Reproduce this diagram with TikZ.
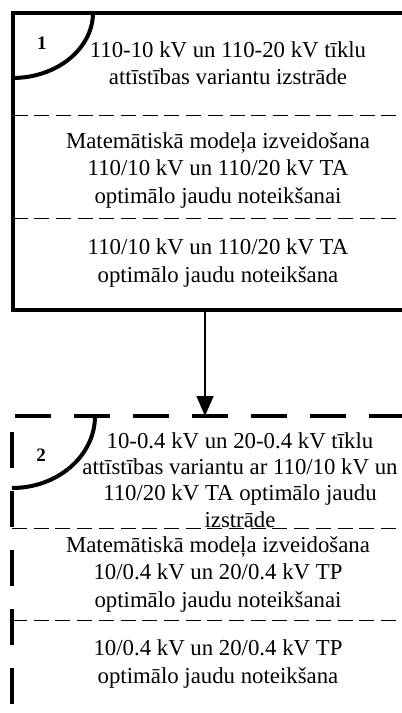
\documentclass[tikz,border=0pt]{standalone}
\usepackage{fontspec}
\setmainfont{Liberation Serif}
\usetikzlibrary{arrows.meta}

\tikzset{
  txt/.style={align=center, inner sep=0pt, font=\fontsize{22.8}{27.5}\selectfont},
  num/.style={inner sep=0pt, font=\fontsize{19}{22}\selectfont\bfseries},
  frame/.style={line width=4pt},
  sep/.style={line width=1pt, dash pattern=on 15pt off 6.7pt},
  bigdash/.style={line width=4pt, dash pattern=on 36pt off 23pt},
  arr/.style={line width=1.6pt, -{Triangle[length=20pt,width=17pt]}},
}

\begin{document}
\begin{tikzpicture}[x=1pt,y=-1pt]
	\useasboundingbox (0,0) rectangle (402,713);
	\clip (0,0) rectangle (402,713);

	% first block: solid frame, runs off to the right
	\coordinate (A1) at (12.5,12.5);
	\draw[frame] (A1) rectangle (440,310);
	\draw[frame] (93,12.5) arc[start angle=0, end angle=90, x radius=80.5, y radius=65.5];
	\draw[sep] (12.5,115) -- (440,115);
	\draw[sep] (12.5,218) -- (440,218);
	\node[num] (n1) at (42,43) {1};
	\node[txt] (t11) at (228,63) {110-10 kV un 110-20 kV tīklu\\attīstības variantu izstrāde};
	\node[txt] (t12) at (218,170) {Matemātiskā modeļa izveidošana\\110/10 kV un 110/20 kV TA\\optimālo jaudu noteikšanai};
	\node[txt] (t13) at (218,263) {110/10 kV un 110/20 kV TA\\optimālo jaudu noteikšana};

	% second block: heavy dashed frame
	\coordinate (A2) at (12,416);
	\draw[bigdash] (15,416) -- (440,416);
	\draw[bigdash, dash phase=43] (A2) -- (12,760);
	\draw[frame] (95,416) arc[start angle=0, end angle=90, x radius=83, y radius=72];
	\draw[sep] (12,528) -- (440,528);
	\draw[sep] (12,620) -- (440,620);
	\node[num] (n2) at (41,455) {2};
	\node[txt, font=\fontsize{22.8}{26.3}\selectfont] (t21) at (240,480) {10-0.4 kV un 20-0.4 kV tīklu\\attīstības variantu ar 110/10 kV un\\110/20 kV TA optimālo jaudu\\izstrāde};
	\node[txt] (t22) at (218,574) {Matemātiskā modeļa izveidošana\\10/0.4 kV un 20/0.4 kV TP\\optimālo jaudu noteikšanai};
	\node[txt] (t23) at (218,664) {10/0.4 kV un 20/0.4 kV TP\\optimālo jaudu noteikšana};

	% link between the blocks
	\coordinate (out1) at (205,310);
	\coordinate (in2) at (205,416);
	\draw[arr] (out1) -- (in2);
\end{tikzpicture}
\end{document}
